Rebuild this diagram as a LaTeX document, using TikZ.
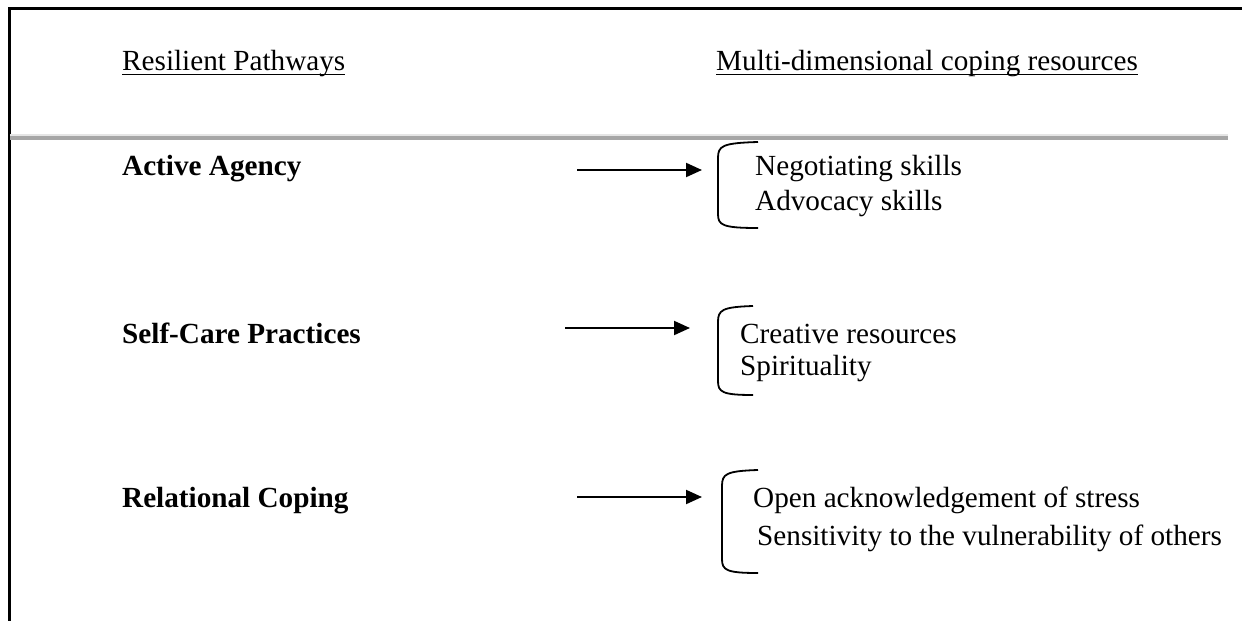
\documentclass[tikz,border=0pt]{standalone}
\usepackage{fontspec}
\setmainfont{Liberation Serif}
\usetikzlibrary{arrows.meta}
\begin{document}
\begin{tikzpicture}[x=1pt,y=-1pt,
  txt/.style={anchor=base west,inner sep=0pt,font=\fontsize{29.2}{35}\selectfont},
  bld/.style={txt,font=\fontsize{29.2}{35}\selectfont\bfseries},
  conn/.style={line width=2pt,-{Triangle[length=16pt,width=14pt]}},
  brk/.style={line width=1.8pt},
  frame/.style={line width=3pt}]
\useasboundingbox (0,0) rectangle (1242,621);
% frame
\coordinate (ftl) at (9,8);
\coordinate (ftr) at (1242,8);
\coordinate (fbl) at (9,621);
\draw[frame] (ftr) -- (ftl) -- (fbl);
% separator
\coordinate (sl) at (10,138);
\coordinate (sr) at (1228,138);
\draw[line width=1.5pt,gray!20] ([yshift=3pt]sl) -- ([yshift=3pt]sr);
\draw[line width=3.5pt,gray!70] (sl) -- (sr);
% headers
\node[txt] (h1) at (122,70) {Resilient Pathways};
\node[txt] (h2) at (716,70) {Multi-dimensional coping resources};
\draw[line width=1.8pt] ([yshift=-4.5pt]h1.base west) -- ([yshift=-4.5pt]h1.base east);
\draw[line width=1.8pt] ([yshift=-4.5pt]h2.base west) -- ([yshift=-4.5pt]h2.base east);
% row 1
\node[bld] (p1) at (122,175) {Active Agency};
\coordinate (a1s) at (577,170);
\coordinate (a1e) at (702,170);
\draw[conn] (a1s) -- (a1e);
\draw[brk] (758,142) .. controls (722,143) and (718,146) .. (718,158) -- (718,214) .. controls (718,225) and (722,228) .. (758,228);
\node[txt] (r1a) at (755,175) {Negotiating skills};
\node[txt] (r1b) at (755,210) {Advocacy skills};
% row 2
\node[bld] (p2) at (122,343) {Self-Care Practices};
\coordinate (a2s) at (565,328);
\coordinate (a2e) at (690,328);
\draw[conn] (a2s) -- (a2e);
\draw[brk] (753,306) .. controls (722,307) and (718,310) .. (718,322) -- (718,381) .. controls (718,392) and (722,395) .. (753,395);
\node[txt] (r2a) at (740,343) {Creative resources};
\node[txt] (r2b) at (740,375) {Spirituality};
% row 3
\node[bld] (p3) at (122,507) {Relational Coping};
\coordinate (a3s) at (577,497);
\coordinate (a3e) at (702,497);
\draw[conn] (a3s) -- (a3e);
\draw[brk] (758,470) .. controls (726,471) and (722,474) .. (722,486) -- (722,559) .. controls (722,570) and (726,573) .. (758,573);
\node[txt] (r3a) at (753,507) {Open acknowledgement of stress};
\node[txt] (r3b) at (757,545) {Sensitivity to the vulnerability of others};
\end{tikzpicture}
\end{document}
